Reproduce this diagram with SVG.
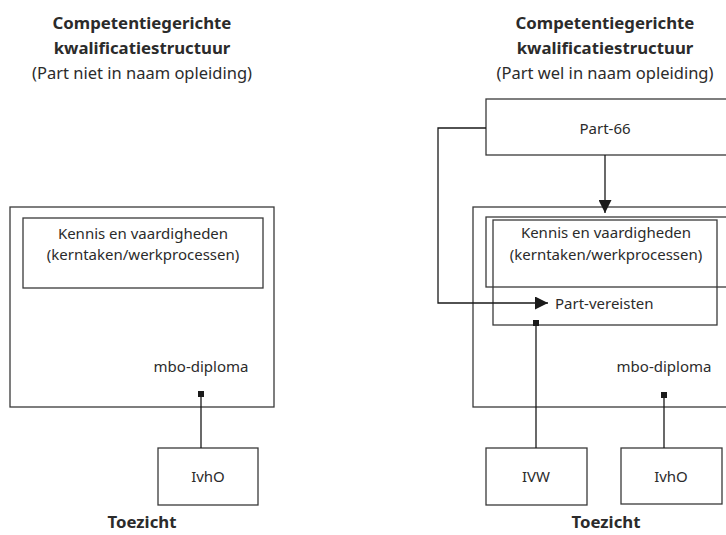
<svg xmlns="http://www.w3.org/2000/svg" width="726" height="535" viewBox="0 0 726 535">
<defs>
<style>
text{font-family:"Noto Sans","Open Sans",sans-serif;fill:#2b2b2b;text-anchor:middle}
.t{font-size:16.8px;font-weight:bold}
.s{font-size:16.5px}
.n{font-size:15px}
.box{fill:none;stroke:#3a3a3a;stroke-width:1.3}
.ln{fill:none;stroke:#1a1a1a;stroke-width:1.3}
.sq{fill:#1a1a1a}
</style>
<marker id="arr" viewBox="0 0 10 10" refX="10" refY="5" markerWidth="13" markerHeight="13" markerUnits="userSpaceOnUse" orient="auto">
<path d="M0,0 L10,5 L0,10 Z" fill="#1a1a1a"/>
</marker>
</defs>
<rect width="726" height="535" fill="#fff"/>

<g id="title-left">
<text class="t" x="142" y="29">Competentiegerichte</text>
<text class="t" x="142" y="54">kwalificatiestructuur</text>
<text class="s" x="142" y="79">(Part niet in naam opleiding)</text>
</g>
<g id="title-right">
<text class="t" x="605" y="29">Competentiegerichte</text>
<text class="t" x="605" y="54">kwalificatiestructuur</text>
<text class="s" x="605" y="79">(Part wel in naam opleiding)</text>
</g>

<g id="mbo-left">
<rect class="box" x="10" y="207" width="264" height="200"/>
<text class="n" x="201" y="372">mbo-diploma</text>
</g>
<g id="kennis-left">
<rect class="box" x="23" y="218" width="240" height="70"/>
<text class="n" x="143" y="239">Kennis en vaardigheden</text>
<text class="n" x="143" y="260">(kerntaken/werkprocessen)</text>
</g>
<g id="ivho-left">
<rect class="box" x="158" y="448" width="100" height="57"/>
<text class="n" x="208" y="482">IvhO</text>
</g>
<g id="toezicht-left">
<text class="t" x="142" y="528">Toezicht</text>
</g>

<g id="part66">
<rect class="box" x="486" y="99" width="245" height="56"/>
<text class="n" x="605" y="134">Part-66</text>
</g>
<g id="mbo-right">
<rect class="box" x="473" y="207" width="260" height="200"/>
<text class="n" x="664" y="372">mbo-diploma</text>
</g>
<g id="kennis-right">
<rect class="box" x="486" y="217" width="245" height="70"/>
<text class="n" x="606" y="238">Kennis en vaardigheden</text>
<text class="n" x="606" y="260">(kerntaken/werkprocessen)</text>
</g>
<g id="partvereisten">
<rect class="box" x="493" y="220" width="224" height="105"/>
<text class="n" x="555" y="309" style="text-anchor:start">Part-vereisten</text>
</g>
<g id="ivw">
<rect class="box" x="486" y="448" width="101" height="57"/>
<text class="n" x="536" y="482">IVW</text>
</g>
<g id="ivho-right">
<rect class="box" x="621" y="448" width="101" height="56"/>
<text class="n" x="671" y="482">IvhO</text>
</g>
<g id="toezicht-right">
<text class="t" x="606" y="528">Toezicht</text>
</g>

<g id="connectors">
<line class="ln" x1="201" y1="394" x2="201" y2="448"/>
<rect class="sq" x="198" y="391" width="6" height="6"/>
<path class="ln" d="M486,128 H438 V303 H548" marker-end="url(#arr)"/>
<line class="ln" x1="605" y1="155" x2="605" y2="213" marker-end="url(#arr)"/>
<line class="ln" x1="536" y1="323" x2="536" y2="448"/>
<rect class="sq" x="533" y="320" width="6" height="6"/>
<line class="ln" x1="664" y1="395" x2="664" y2="448"/>
<rect class="sq" x="661" y="392" width="6" height="6"/>
</g>
</svg>
